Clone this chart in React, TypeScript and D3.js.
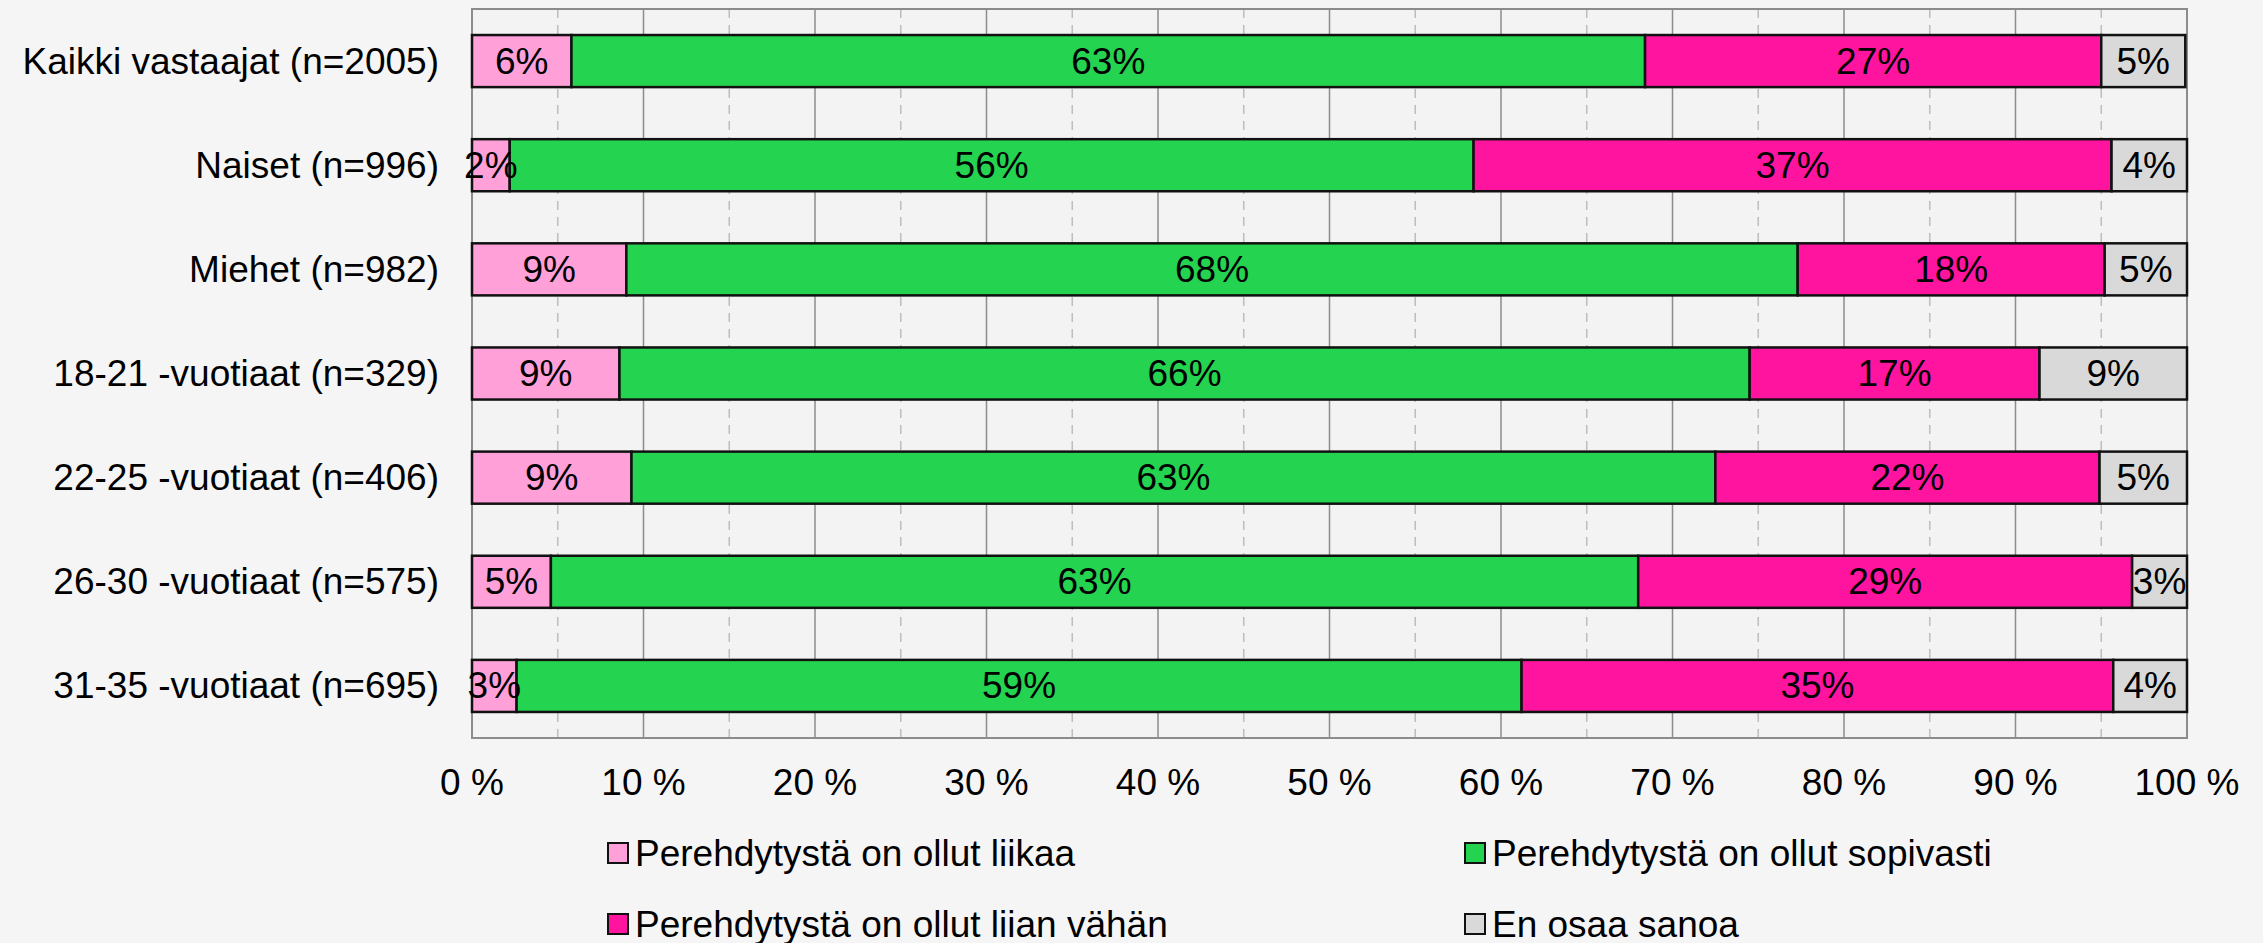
import React from "react";
import * as d3 from "d3";

const categories = [
  "Kaikki vastaajat (n=2005)",
  "Naiset (n=996)",
  "Miehet (n=982)",
  "18-21 -vuotiaat (n=329)",
  "22-25 -vuotiaat (n=406)",
  "26-30 -vuotiaat (n=575)",
  "31-35 -vuotiaat (n=695)",
];
const seriesNames = [
  "Perehdytystä on ollut liikaa",
  "Perehdytystä on ollut sopivasti",
  "Perehdytystä on ollut liian vähän",
  "En osaa sanoa",
];
const liikaa = [5.8, 2.2, 9.0, 8.6, 9.3, 4.6, 2.6];
const sopivasti = [62.6, 56.2, 68.3, 65.9, 63.2, 63.4, 58.6];
const liianVahan = [26.6, 37.2, 17.9, 16.9, 22.4, 28.8, 34.5];
const eos = [4.9, 4.4, 4.8, 8.6, 5.1, 3.2, 4.3];
const xTicks = [0, 10, 20, 30, 40, 50, 60, 70, 80, 90, 100];
const colors = ["#FFA0D8", "#24D34F", "#FF14A0", "#D9D9D9"];

const W = 2263;
const H = 943;
const M = { left: 472, right: 2187, top: 9, bottom: 738 };
const FONT = "'Liberation Sans', Arial, sans-serif";
const FS = 37;

export default function App() {
  const x = d3.scaleLinear().domain([0, 100]).range([M.left, M.right]);
  const y = d3
    .scaleBand<string>()
    .domain(categories)
    .range([M.top, M.bottom])
    .paddingInner(0.5)
    .paddingOuter(0.25);
  const series = [liikaa, sopivasti, liianVahan, eos];
  const minorTicks = d3.range(5, 100, 10);

  const rows = categories.map((c, i) => {
    let acc = 0;
    return series.map((s, k) => {
      const v = s[i];
      const seg = { k, x0: acc, x1: acc + v, v };
      acc += v;
      return seg;
    });
  });

  const legendItems = [
    { k: 0, x: 608, y: 853 },
    { k: 1, x: 1465, y: 853 },
    { k: 2, x: 608, y: 924 },
    { k: 3, x: 1465, y: 924 },
  ];

  return (
    <svg width={W} height={H} style={{ position: "absolute", left: 0, top: 0, background: "#F5F5F5" }} fontFamily={FONT}>
      <rect x={0} y={0} width={W} height={H} fill="#F5F5F5" />
      <rect x={M.left} y={M.top} width={M.right - M.left} height={M.bottom - M.top} fill="#F3F3F3" />
      {minorTicks.map((t) => (
        <line key={"m" + t} x1={x(t)} x2={x(t)} y1={M.top} y2={M.bottom} stroke="#BDBDBD" strokeWidth={1.5} strokeDasharray="9,7" />
      ))}
      {xTicks.map((t) => (
        <line key={"g" + t} x1={x(t)} x2={x(t)} y1={M.top} y2={M.bottom} stroke="#8C8C8C" strokeWidth={1.5} />
      ))}
      <rect x={M.left} y={M.top} width={M.right - M.left} height={M.bottom - M.top} fill="none" stroke="#8C8C8C" strokeWidth={2} />
      {rows.map((segs, i) => (
        <g key={categories[i]}>
          {segs.map((s) => (
            <rect key={s.k} x={x(s.x0)} y={y(categories[i])!} width={x(s.x1) - x(s.x0)} height={y.bandwidth()} fill={colors[s.k]} stroke="#111" strokeWidth={2.5} />
          ))}
          {segs.map((s) => (
            <text key={"t" + s.k} x={(x(s.x0) + x(s.x1)) / 2} y={y(categories[i])! + y.bandwidth() / 2} textAnchor="middle" dominantBaseline="central" fontSize={FS} fill="#000">
              {Math.round(s.v)}%
            </text>
          ))}
          <text x={439} y={y(categories[i])! + y.bandwidth() / 2} textAnchor="end" dominantBaseline="central" fontSize={FS} fill="#000">
            {categories[i]}
          </text>
        </g>
      ))}
      {xTicks.map((t) => (
        <text key={"l" + t} x={x(t)} y={782} textAnchor="middle" dominantBaseline="central" fontSize={FS} fill="#000">
          {t} %
        </text>
      ))}
      {legendItems.map((it) => (
        <g key={it.k}>
          <rect x={it.x} y={it.y - 10} width={20} height={20} fill={colors[it.k]} stroke="#111" strokeWidth={2} />
          <text x={it.x + 27} y={it.y} dominantBaseline="central" fontSize={FS} fill="#000">
            {seriesNames[it.k]}
          </text>
        </g>
      ))}
    </svg>
  );
}
